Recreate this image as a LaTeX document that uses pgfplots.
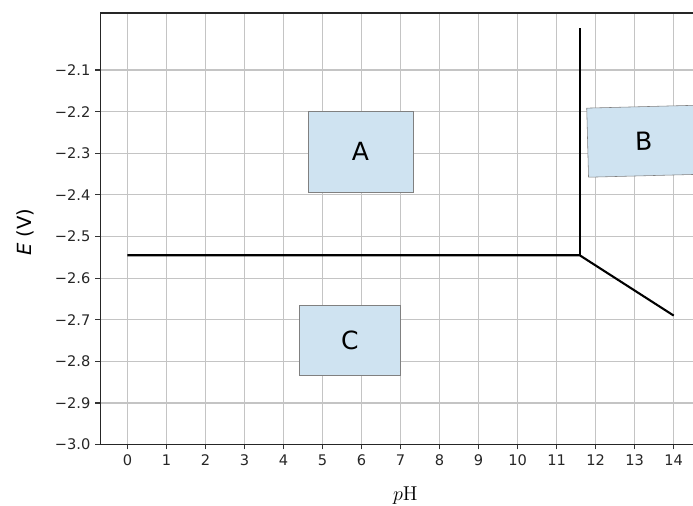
\documentclass[border=0pt]{standalone}
\usepackage[no-math]{fontspec}
\setmainfont{DejaVu Sans}
\usepackage{pgfplots}
\pgfplotsset{compat=1.18}
\definecolor{boxblue}{RGB}{207,227,241}
\definecolor{gridgray}{RGB}{196,196,196}
\begin{document}
\begin{tikzpicture}
\begin{axis}[
  scale only axis,
  width=432pt, height=310.3pt,
  xmin=-0.7, xmax=14.7, ymin=-3.0, ymax=-1.963,
  xtick={0,1,2,3,4,5,6,7,8,9,10,11,12,13,14},
  ytick={-3.0,-2.9,-2.8,-2.7,-2.6,-2.5,-2.4,-2.3,-2.2,-2.1},
  yticklabels={−3.0,−2.9,−2.8,−2.7,−2.6,−2.5,−2.4,−2.3,−2.2,−2.1},
  xtick pos=left, ytick pos=left,
  grid=major, grid style={gridgray, line width=0.8pt},
  tick align=outside, major tick length=3.5pt,
  tick style={black!80, line width=0.8pt},
  axis line style={black!85, line width=0.8pt},
  ticklabel style={font=\fontsize{10.5}{12}\selectfont, text=black!85},
  /pgf/number format/assume math mode=true,
  xlabel={$p\mathrm{H}$}, ylabel={\textit{E} (V)},
  label style={font=\fontsize{14}{16}\selectfont},
  xlabel style={at={(axis description cs:0.508,0)}, anchor=base, yshift=-40.3pt},
  ylabel style={at={(axis description cs:-0.125,0.492)}, anchor=center},
  clip=false,
]
\addplot[black, line width=1.5pt] coordinates {(0,-2.545) (11.59,-2.545) (14,-2.69)};
\addplot[black, line width=1.5pt] coordinates {(11.59,-2.0) (11.59,-2.545)};
\node[draw=gray, fill=boxblue, minimum width=75.6pt, minimum height=58.3pt, inner sep=0pt,
      font=\fontsize{18}{22}\selectfont] at (axis cs:5.97,-2.2965) {A};
\node[draw=gray, fill=boxblue, minimum width=72.7pt, minimum height=50.4pt, inner sep=0pt,
      font=\fontsize{18}{22}\selectfont] at (axis cs:5.70,-2.750) {C};
\node[draw=gray, fill=boxblue, minimum width=80.6pt, minimum height=49.7pt, inner sep=0pt, rotate=1.5,
      font=\fontsize{18}{22}\selectfont] at (axis cs:13.23,-2.271) {B};
\end{axis}
\pgfresetboundingbox
\path[use as bounding box] ([xshift=-72pt,yshift=-43.92pt]current axis.south west) rectangle ([xshift=-5.76pt,yshift=9.36pt]current axis.north east);
\end{tikzpicture}
\end{document}
